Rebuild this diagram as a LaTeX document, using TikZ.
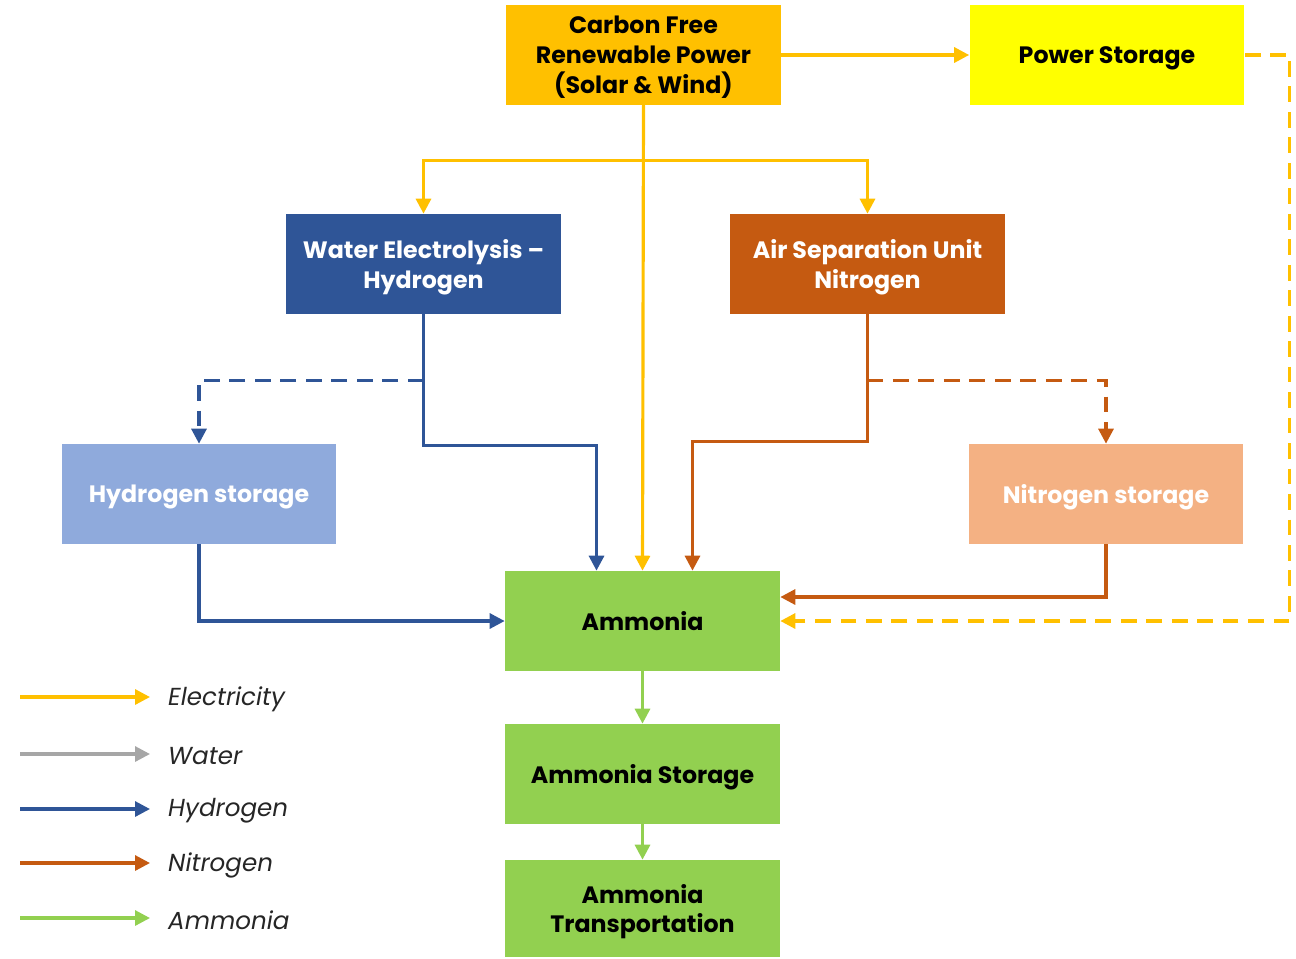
\documentclass[tikz,border=0pt]{standalone}
\usepackage{fontspec}
\setmainfont{Poppins}
\usetikzlibrary{arrows.meta,calc}

\definecolor{elecc}{HTML}{FFC000}
\definecolor{pwrc}{HTML}{FFFF00}
\definecolor{hydc}{HTML}{2F5597}
\definecolor{nitc}{HTML}{C55A11}
\definecolor{hstc}{HTML}{8FAADC}
\definecolor{nstc}{HTML}{F4B183}
\definecolor{ammc}{HTML}{92D050}
\definecolor{watc}{HTML}{A6A6A6}
\definecolor{txtc}{HTML}{262626}

\tikzset{
	box/.style={minimum width=5.5cm, minimum height=2cm, inner sep=2pt, align=center,
		text depth=0pt, font=\fontsize{13.5}{17}\selectfont\bfseries},
	flow/.style={line width=1.8pt, -{Triangle[length=8.5pt,width=8.5pt]}},
	elec/.style={flow, color=elecc},
	wat/.style={flow, color=watc},
	hyd/.style={flow, color=hydc},
	nit/.style={flow, color=nitc},
	amf/.style={flow, color=ammc},
	store/.style={dash pattern=on 9pt off 5.5pt},
	legtext/.style={anchor=west, color=txtc, font=\fontsize{14}{17}\selectfont\itshape}
}

\begin{document}
\begin{tikzpicture}[x=0.02cm, y=-0.02cm]
		%%%%% START %%%%%
		\useasboundingbox (0,0) rectangle (1296,958);
		
		\node[box, fill=elecc] (cfree) at (643.5,55) {Carbon Free\\Renewable Power\\(Solar \& Wind)};
		\node[box, fill=pwrc] (pst) at (1107,55) {Power Storage};
		
		\node[box, fill=hydc, text=white] (wel) at (423.5,264) {Water Electrolysis --\\Hydrogen};
		\node[box, fill=nitc, text=white] (asu) at (867.5,264) {Air Separation Unit\\Nitrogen};
		
		\node[box, fill=hstc, text=white] (hst) at (199,494) {Hydrogen storage};
		\node[box, fill=nstc, text=white] (nst) at (1106,494) {Nitrogen storage};
		
		\node[box, fill=ammc] (amm) at (642.5,621) {Ammonia};
		\node[box, fill=ammc] (ams) at (642.5,774) {Ammonia Storage};
		\node[box, fill=ammc, minimum height=1.94cm] (amt) at (642.5,908.5) {Ammonia\\Transportation};
		
		% electricity
		\draw[elec] (cfree.east) -- (pst.west);
		\draw[elec] (cfree.south) -- (amm.north);
		\draw[elec] (cfree.south) -- ++(0,55) -| (wel.north);
		\draw[elec] (cfree.south) -- ++(0,55) -| (asu.north);
		\draw[elec, store] (pst.east) -- ++(45,0) |- (amm.east);
		
		% hydrogen
		\draw[hyd] (wel.south) -- ++(0,131) -| ([xshift=-0.92cm]amm.north);
		\draw[hyd, store] (wel.south) ++(0,66) -| (hst.north);
		\draw[hyd] (hst.south) |- (amm.west);
		
		% nitrogen
		\draw[nit] (asu.south) -- ++(0,127) -| ([xshift=1cm]amm.north);
		\draw[nit, store] (asu.south) ++(0,66) -| (nst.north);
		\draw[nit] (nst.south) |- ([yshift=0.48cm]amm.east);
		
		% ammonia
		\draw[amf] (amm) -- (ams);
		\draw[amf] (ams) -- (amt);
		
		% legend
		\foreach \sty/\lbl/\yy in {elec/Electricity/697, wat/Water/754, hyd/Hydrogen/809, nit/Nitrogen/863, amf/Ammonia/918}{
			\coordinate (l\lbl) at (20,\yy);
			\draw[\sty] (l\lbl) -- ++(130,0);
			\node[legtext] (t\lbl) at (162,\yy+2) {\lbl};
		}
		%%%%% END %%%%%
\end{tikzpicture}
\end{document}
